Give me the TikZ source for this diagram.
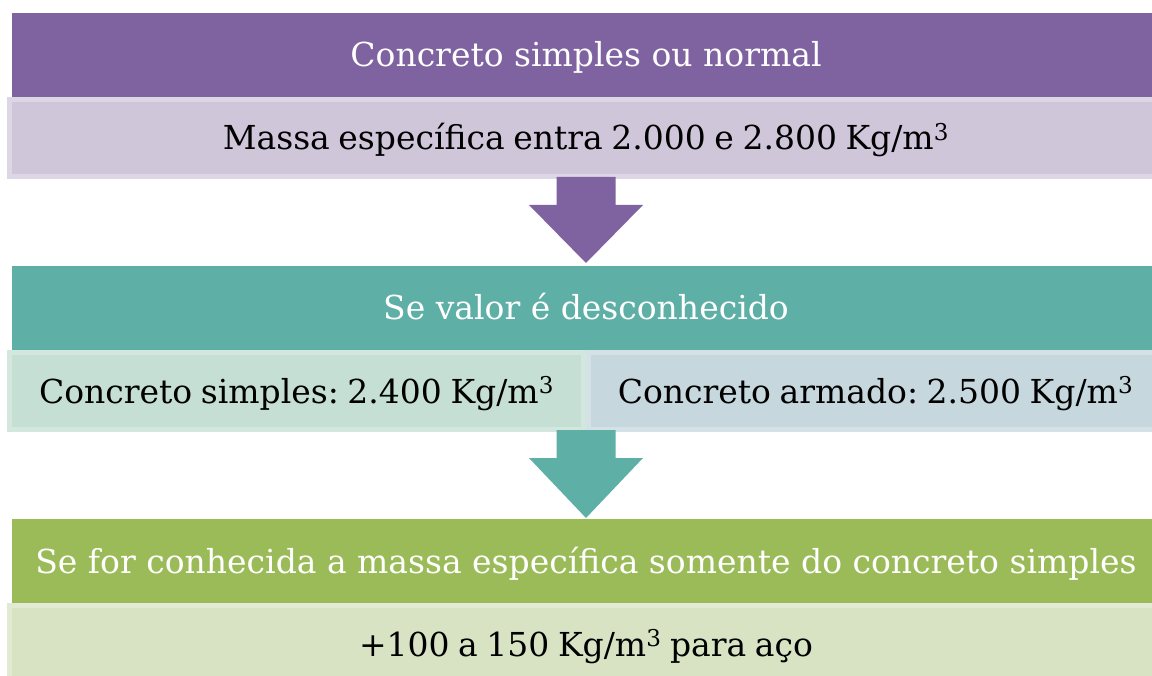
\documentclass[tikz,border=0pt]{standalone}
\usepackage{fontspec}
\setmainfont{DejaVu Serif}
\usepackage{xcolor}
\usetikzlibrary{positioning,calc}

\definecolor{purp}{HTML}{7F63A1}
\definecolor{lav}{HTML}{CFC6DA}
\definecolor{lavedge}{HTML}{DCD6E5}
\definecolor{teal}{HTML}{5EAFA6}
\definecolor{lteal}{HTML}{C5DFD5}
\definecolor{ltealedge}{HTML}{D3E7DF}
\definecolor{lblue}{HTML}{C6D8DD}
\definecolor{lblueedge}{HTML}{D4E2E6}
\definecolor{grn}{HTML}{9BBB59}
\definecolor{lgrn}{HTML}{D8E3C4}
\definecolor{lgrnedge}{HTML}{E2EAD3}

\newcommand\boxfont{\fontsize{33}{40}\selectfont\spaceskip=0.26em plus 0.1em\relax}

\begin{document}
\frenchspacing
\begin{tikzpicture}[x=1pt, y=1pt,
  head/.style={minimum width=1148pt, minimum height=84pt, inner sep=0pt, outer sep=0pt,
    text=white, text height=24pt, text depth=0pt, font=\fontsize{33}{40}\selectfont},
  sub/.style={minimum height=77pt, line width=5pt, inner sep=0pt, outer sep=2.5pt,
    text=black, text height=24pt, text depth=0pt, font=\boxfont}]
\useasboundingbox (0,0) rectangle (1152,-676);
\node[head, fill=purp] (top) at (586,-55) {Concreto simples ou normal};
\node[sub, fill=lav, draw=lavedge, minimum width=1153pt, below=0pt of top] (massa)
  {Massa específica entra 2.000 e 2.800 Kg/m\textsuperscript{3}};
\node[head, fill=teal, below=87pt of massa] (desc) {Se valor é desconhecido};
\node[sub, fill=lteal, draw=ltealedge, minimum width=574pt, anchor=north east] (simples)
  at (desc.south) {Concreto simples: 2.400 Kg/m\textsuperscript{3}};
\node[sub, fill=lblue, draw=lblueedge, minimum width=574pt, anchor=north west] (armado)
  at (desc.south) {Concreto armado: 2.500 Kg/m\textsuperscript{3}};
\node[head, fill=grn, below=87pt of simples.south east, anchor=north] (conh)
  {Se for conhecida a massa específica somente do concreto simples};
\node[sub, fill=lgrn, draw=lgrnedge, minimum width=1153pt, below=0pt of conh] (aco)
  {+100 a 150 Kg/m\textsuperscript{3} para aço};
% block arrows
\fill[purp] ($(massa.south)+(-29.5,2)$) -- ++(0,-28) -- ++(-27.5,0)
  -- ($(massa.south)+(0,-84)$) -- ++(57,58) -- ++(-27.5,0) -- ++(0,28) -- cycle;
\fill[teal] ($(simples.south east)+(-29.5,2)$) -- ++(0,-28) -- ++(-27.5,0)
  -- ($(simples.south east)+(0,-86)$) -- ++(57,60) -- ++(-27.5,0) -- ++(0,28) -- cycle;
\end{tikzpicture}
\end{document}
